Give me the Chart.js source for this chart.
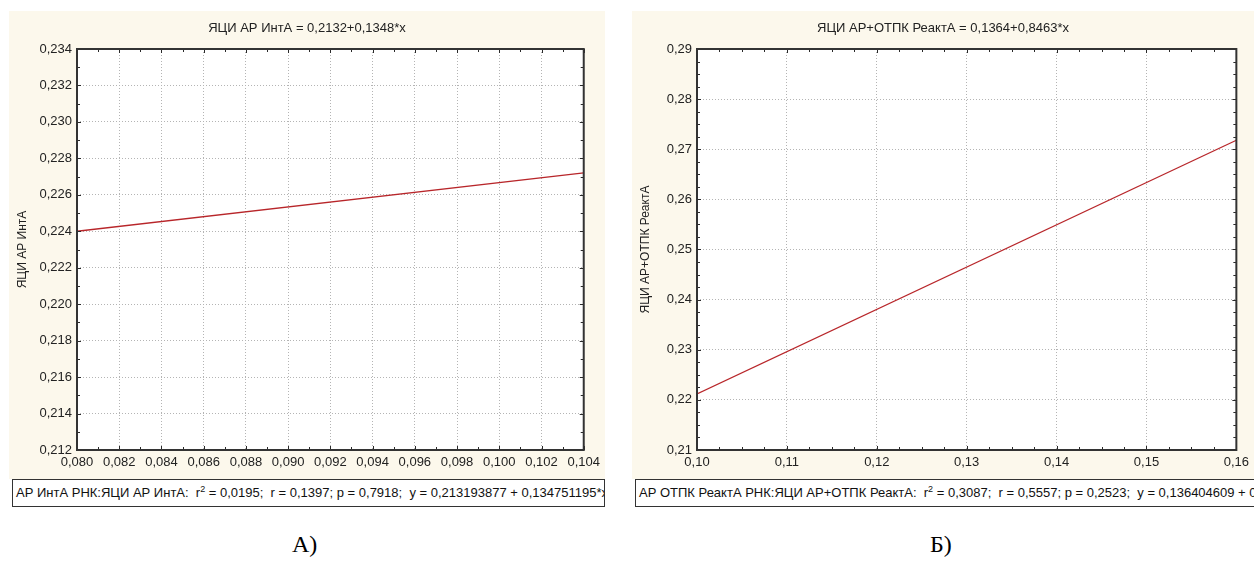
<!DOCTYPE html>
<html><head><meta charset="utf-8">
<script src="https://cdn.jsdelivr.net/npm/chart.js@4"></script>
<style>
body{margin:0;width:1254px;height:562px;background:#fff;position:relative;overflow:hidden;font-family:Arial,"Liberation Sans",sans-serif;}
.panel{position:absolute;background:#fcf8ec;}
.legend{position:absolute;background:#fff;border:1.5px solid #333;box-sizing:border-box;white-space:nowrap;overflow:hidden;font-size:13px;color:#111;line-height:25px;padding-left:3px;}
.legend sup{font-size:9px;line-height:0;}
.cap{position:absolute;font-family:"Liberation Serif","Times New Roman",serif;font-size:24px;color:#000;line-height:28px;}
</style></head>
<body>
<div class="panel" style="left:9px;top:11px;width:596px;height:468px;"><canvas id="cA" width="596" height="468"></canvas></div>
<div class="legend" style="left:12px;top:479px;width:593px;height:28px;">АР ИнтА РНК:ЯЦИ АР ИнтА:&nbsp; r<sup>2</sup> = 0,0195;&nbsp; r = 0,1397; p = 0,7918;&nbsp; y = 0,213193877 + 0,134751195*x</div>
<div class="panel" style="left:632px;top:11px;width:622px;height:468px;"><canvas id="cB" width="622" height="468"></canvas></div>
<div class="legend" style="left:635px;top:479px;width:640px;height:28px;">АР ОТПК РеактА РНК:ЯЦИ АР+ОТПК РеактА:&nbsp; r<sup>2</sup> = 0,3087;&nbsp; r = 0,5557; p = 0,2523;&nbsp; y = 0,136404609 + 0,846300000*x</div>
<div class="cap" style="left:292px;top:530px;">А)</div>
<div class="cap" style="left:930px;top:530px;">Б)</div>
<script>
// ---- data ----
const titleA = "ЯЦИ АР ИнтА = 0,2132+0,1348*x";
const yTitleA = "ЯЦИ АР ИнтА";
const xTicksA = [0.080,0.082,0.084,0.086,0.088,0.090,0.092,0.094,0.096,0.098,0.100,0.102,0.104];
const yTicksA = [0.212,0.214,0.216,0.218,0.220,0.222,0.224,0.226,0.228,0.230,0.232,0.234];
const lineAx = [0.080, 0.104];
const lineAy = [0.2240, 0.2272];

const titleB = "ЯЦИ АР+ОТПК РеактА = 0,1364+0,8463*x";
const yTitleB = "ЯЦИ АР+ОТПК РеактА";
const xTicksB = [0.10,0.11,0.12,0.13,0.14,0.15,0.16];
const yTicksB = [0.21,0.22,0.23,0.24,0.25,0.26,0.27,0.28,0.29];
const lineBx = [0.10, 0.16];
const lineBy = [0.2212, 0.2718];

// ---- chart builder ----
const FONT = "Arial, 'Liberation Sans', sans-serif";
const frameTicks = {
  id:'frameTicks',
  afterDatasetsDraw(chart, args, opts){
    const {ctx, chartArea:a, scales} = chart;
    const xs = scales.x, ys = scales.y;
    ctx.save();
    ctx.strokeStyle = '#2a2a2a';
    ctx.lineWidth = 1;
    const minor = opts.minor;
    function ticksOf(arr){
      const maj = arr.slice(), mn = [];
      for(let i=0;i<arr.length-1;i++){
        for(let k=1;k<=minor;k++) mn.push(arr[i]+(arr[i+1]-arr[i])*k/(minor+1));
      }
      return {maj, mn};
    }
    const tx = ticksOf(opts.xt), ty = ticksOf(opts.yt);
    ctx.beginPath();
    const draw = (list,len)=>{
      list.forEach(v=>{
        const px = Math.round(xs.getPixelForValue(v))+0.5;
        ctx.moveTo(px,a.bottom); ctx.lineTo(px,a.bottom-len);
        ctx.moveTo(px,a.top); ctx.lineTo(px,a.top+len);
      });
    };
    const drawY = (list,len)=>{
      list.forEach(v=>{
        const py = Math.round(ys.getPixelForValue(v))+0.5;
        ctx.moveTo(a.left,py); ctx.lineTo(a.left+len,py);
        ctx.moveTo(a.right,py); ctx.lineTo(a.right-len,py);
      });
    };
    draw(tx.maj,4); draw(tx.mn,3); drawY(ty.maj,4); drawY(ty.mn,3);
    ctx.stroke();
    ctx.lineWidth = 2;
    ctx.strokeStyle = '#333';
    ctx.strokeRect(a.left, a.top, a.right-a.left, a.bottom-a.top);
    ctx.restore();
  }
};
const plotBg = {
  id:'plotBg',
  beforeDraw(chart){
    const {ctx, chartArea:a} = chart;
    ctx.save(); ctx.fillStyle='#fff';
    ctx.fillRect(a.left,a.top,a.right-a.left,a.bottom-a.top);
    ctx.restore();
  }
};

function build(id, title, yTitle, xt, yt, lx, ly, dec, yW, rW, minor){
  const fmt = v => Number(v).toFixed(dec).replace('.',',');
  new Chart(document.getElementById(id), {
    type:'line',
    data:{datasets:[{
      data: lx.map((x,i)=>({x:x, y:ly[i]})),
      borderColor:'#b8262a', borderWidth:1.3, pointRadius:0, tension:0, fill:false
    }]},
    options:{
      responsive:false, animation:false,
      layout:{padding:0},
      plugins:{
        legend:{display:false}, tooltip:{enabled:false},
        title:{display:true, text:title, color:'#222', font:{family:FONT, size:13, weight:'normal'}, padding:{top:10, bottom:12.4}},
        frameTicks:{xt:xt, yt:yt, minor:minor}
      },
      scales:{
        x:{type:'linear', min:xt[0], max:xt[xt.length-1],
          afterBuildTicks: s=>{ s.ticks = xt.map(v=>({value:v})); },
          afterFit: s=>{ s.height = 29; },
          ticks:{callback:fmt, color:'#222', font:{family:FONT,size:13}, padding:5, maxRotation:0, autoSkip:false},
          grid:{color:'#b4b4b4', lineWidth:1, drawTicks:false},
          border:{display:false, dash:[1,2]}
        },
        y:{type:'linear', min:yt[0], max:yt[yt.length-1],
          afterBuildTicks: s=>{ s.ticks = yt.map(v=>({value:v})); },
          afterFit: s=>{ s.width = yW; },
          ticks:{callback:fmt, color:'#222', font:{family:FONT,size:13}, padding:5, autoSkip:false},
          grid:{color:'#b4b4b4', lineWidth:1, drawTicks:false},
          border:{display:false, dash:[1,2]},
          title:{display:true, text:yTitle, color:'#222', font:{family:FONT,size:12}, padding:{top:6,bottom:0}}
        },
        y2:{type:'linear', position:'right', display:true,
          afterFit: s=>{ s.width = rW; },
          ticks:{display:false}, grid:{display:false, drawTicks:false}, border:{display:false}
        }
      }
    },
    plugins:[plotBg, frameTicks]
  });
}
build('cA', titleA, yTitleA, xTicksA, yTicksA, lineAx, lineAy, 3, 68, 21, 1);
build('cB', titleB, yTitleB, xTicksB, yTicksB, lineBx, lineBy, 2, 65, 17, 3);
</script>
</body></html>
